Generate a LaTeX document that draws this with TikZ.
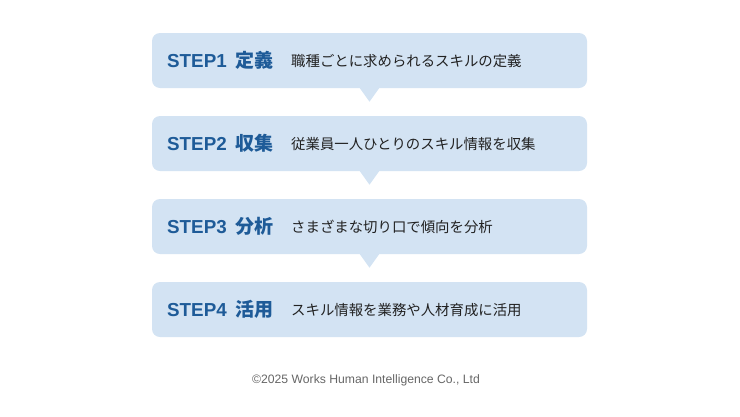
\documentclass[tikz,border=0pt]{standalone}
\usepackage{fontspec}
\setmainfont{Liberation Sans}
\newfontfamily\jp{Noto Sans CJK JP}
\definecolor{boxfill}{HTML}{D3E3F3}
\definecolor{stepblue}{HTML}{1E5B98}
\definecolor{desc}{HTML}{222222}
\definecolor{copy}{HTML}{666666}
\tikzset{
  stepbox/.style={fill=boxfill, rounded corners=8pt, minimum width=435pt, minimum height=55pt, inner sep=0pt},
  steplabel/.style={anchor=west, inner sep=0pt, text=stepblue, font=\fontsize{18.8}{20}\selectfont\bfseries},
  desclabel/.style={anchor=west, inner sep=0pt, text=desc, font=\jp\fontsize{14.4}{16}\selectfont},
  pointer/.style={fill=boxfill}
}
\begin{document}
\begin{tikzpicture}[x=1pt,y=-1pt]
\useasboundingbox (0,0) rectangle (740,416);
\foreach \i/\y/\s/\k/\d in {1/60.5/STEP1/定義/職種ごとに求められるスキルの定義,
  2/143.5/STEP2/収集/従業員一人ひとりのスキル情報を収集,
  3/226.5/STEP3/分析/さまざまな切り口で傾向を分析,
  4/309.5/STEP4/活用/スキル情報を業務や人材育成に活用}{
  \node[stepbox] (b\i) at (369.5,\y) {};
  \node[steplabel] (s\i) at (167,\y) {\s\hspace{9pt}{\jp\bfseries\fontsize{19}{20}\selectfont\k}};
  \node[desclabel] (d\i) at (291,\y+0.5) {\d};
}
\foreach \i in {1,2,3}{
  \fill[pointer] ([xshift=-10pt,yshift=0.5pt]b\i.south) -- ([yshift=-13.5pt]b\i.south) -- ([xshift=10pt,yshift=0.5pt]b\i.south) -- cycle;
}
\node[text=copy, font=\fontsize{12.2}{14}\selectfont] (c) at (366,380.5) {©2025 Works Human Intelligence Co., Ltd};
\end{tikzpicture}
\end{document}
